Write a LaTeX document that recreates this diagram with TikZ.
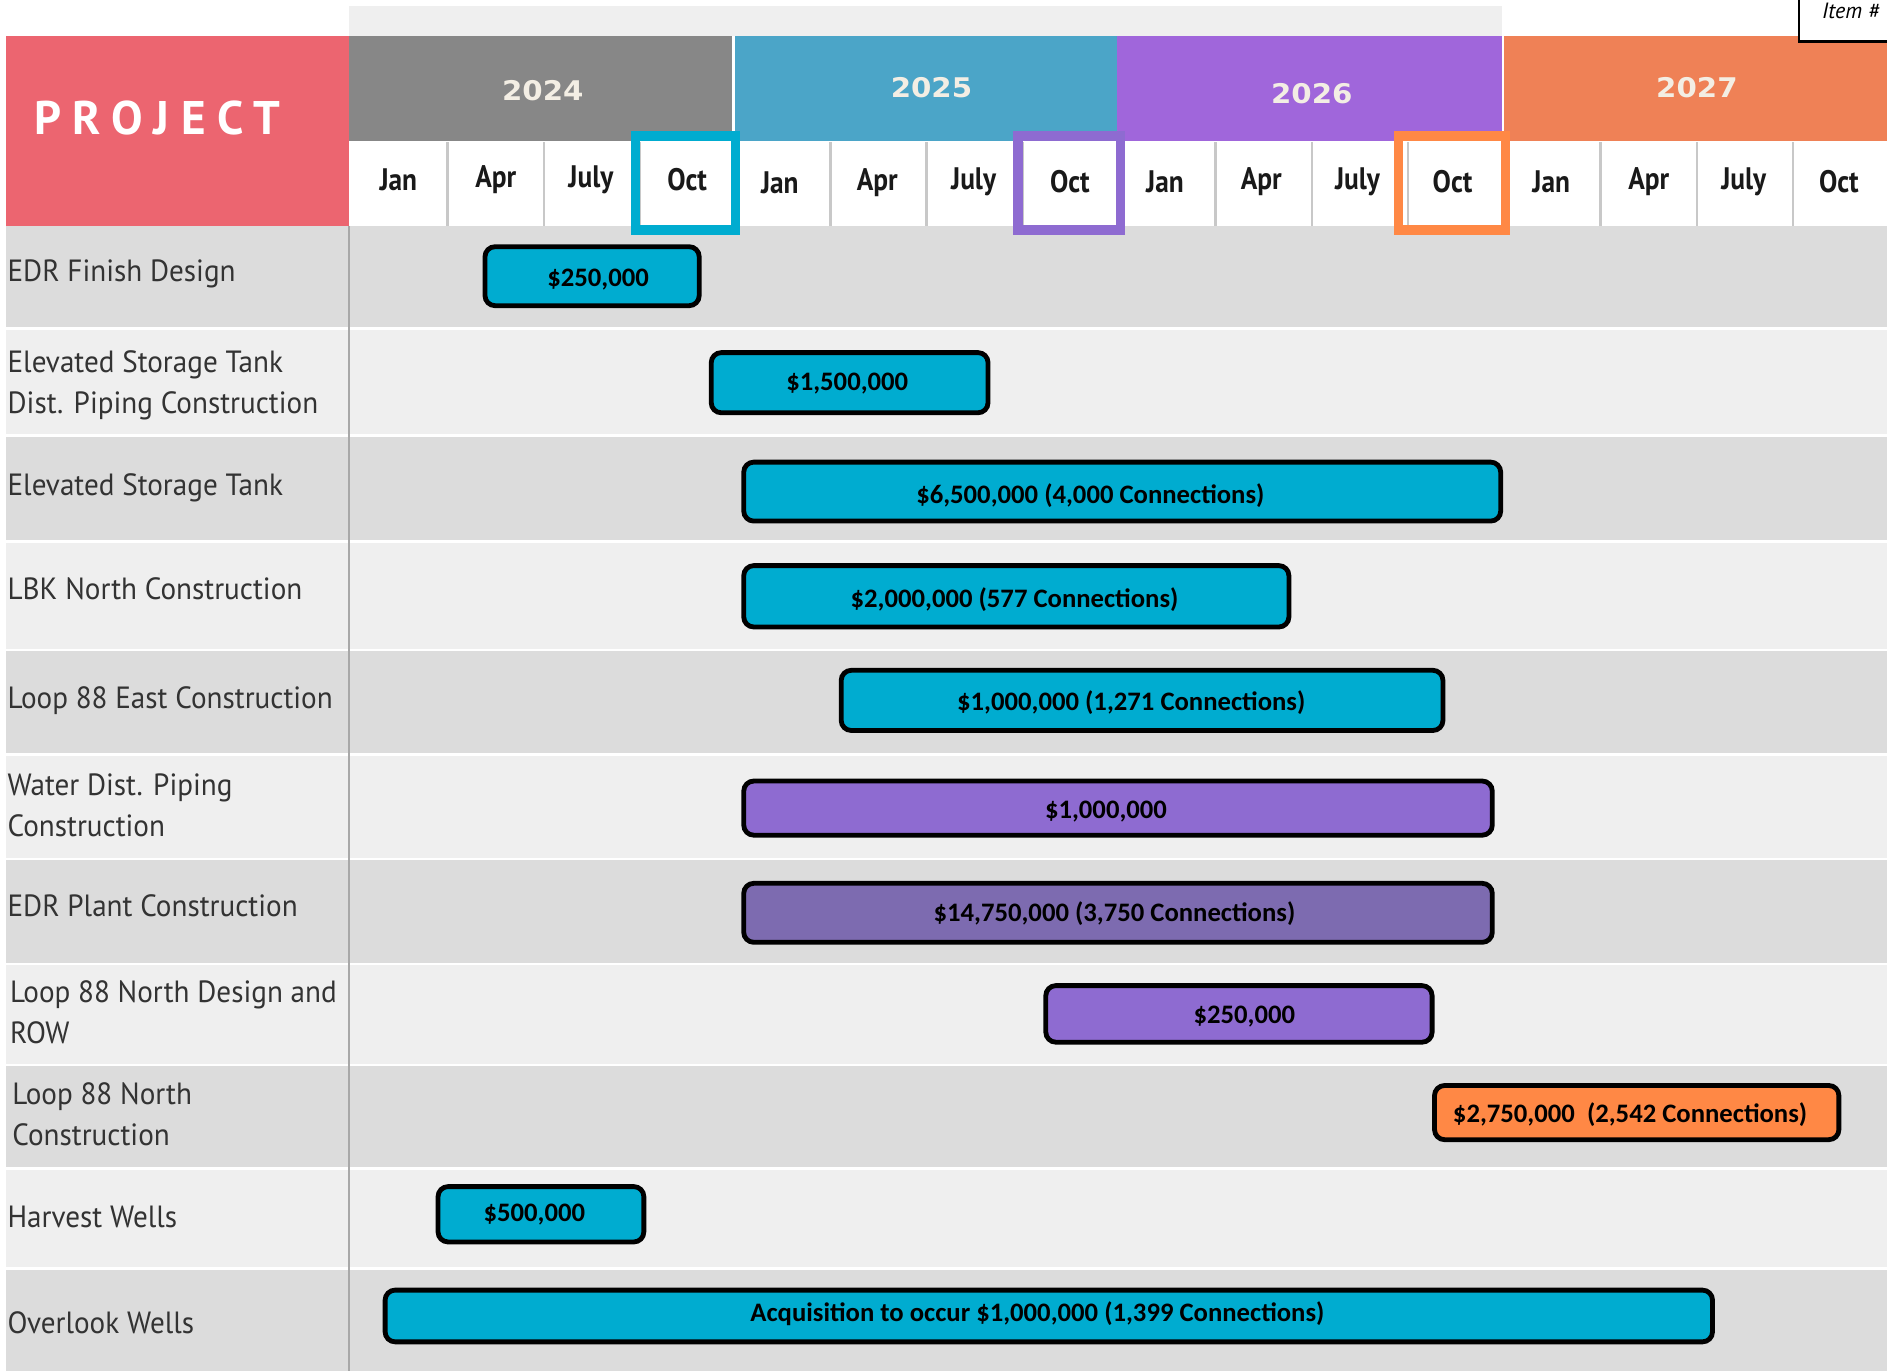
\documentclass[tikz,border=0pt]{standalone}
\usepackage{fontspec}
\setmainfont{PT Sans}
\newfontfamily\barfont{Carlito}
\newfontfamily\yearfont[FakeStretch=1.08]{DejaVu Sans}
\newfontfamily\monthfont[FakeStretch=0.88]{PT Sans}
\newfontfamily\labelfont[FakeStretch=0.95]{PT Sans}
\newfontfamily\projfont[LetterSpace=25]{PT Sans}
\definecolor{projred}{HTML}{EC6570}
\definecolor{yr24}{HTML}{878787}
\definecolor{yr25}{HTML}{4BA5C8}
\definecolor{yr26}{HTML}{A066DB}
\definecolor{yr27}{HTML}{EF8156}
\definecolor{rowD}{HTML}{DCDCDC}
\definecolor{rowL}{HTML}{EFEFEF}
\definecolor{topband}{HTML}{EFEFEF}
\definecolor{cyanbar}{HTML}{00ACD0}
\definecolor{purpA}{HTML}{8E6BD1}
\definecolor{purpB}{HTML}{7D6BB0}
\definecolor{orgbar}{HTML}{FF8845}
\definecolor{labelgray}{HTML}{333333}
\definecolor{yeartext}{HTML}{F3EEE4}
\definecolor{sepgray}{HTML}{C8C8C8}
\definecolor{vline}{HTML}{A8A8A8}
\newcommand\gbar[6]{\node[barbox, fill=#6, minimum width={(#4-#2-4)*0.6pt}, minimum height={(#5-#3-4)*0.6pt}] (#1) at ({(#2+#4)/2},{(#3+#5)/2}) {};}
\tikzset{
  barbox/.style={draw=black, line width=2.4pt, rounded corners=5pt, inner sep=0pt},
  bartext/.style={font=\barfont\bfseries\fontsize{13.3}{16}\selectfont, inner sep=0pt, text=black},
  rowlabel/.style={anchor=west, align=left, font=\labelfont\fontsize{15.3}{20.5}\selectfont, text=labelgray, inner sep=0pt},
  monthlab/.style={font=\monthfont\bfseries\fontsize{15.5}{18}\selectfont, inner sep=0pt, text=black!90},
  yearlab/.style={font=\yearfont\bfseries\fontsize{13.5}{16}\selectfont, text=yeartext, inner sep=0pt},
  hlbox/.style={line width=4.8pt},
}
\begin{document}
\begin{tikzpicture}[x=0.6pt,y=-0.6pt]
\useasboundingbox (0,0) rectangle (1568,1139);
\fill[white] (0,0) rectangle (1568,1139);
% top band
\fill[topband] (290,5) rectangle (1248,30);
% project header
\fill[projred] (5,30) rectangle (290,188);
\node[anchor=west, text=white, inner sep=0pt] (proj) at (28,98) {\projfont\bfseries\fontsize{23.5}{26}\selectfont PROJECT};
% years
\fill[yr24] (290,30) rectangle (608,117);
\fill[yr25] (611,30) rectangle (928,117);
\fill[yr26] (928,30) rectangle (1248,117);
\fill[yr27] (1250,30) rectangle (1568,117);
\node[yearlab] (y24) at (451,75) {2024};
\node[yearlab] (y25) at (774,73) {2025};
\node[yearlab] (y26) at (1090,78) {2026};
\node[yearlab] (y27) at (1410,73) {2027};
% months row
\fill[white] (290,117) rectangle (1568,188);
\foreach \sx in {372,452,532,610,690,770,850,930,1010,1090,1170,1250,1330,1410,1490}
  \draw[sepgray, line width=1.2pt] (\sx,118) -- (\sx,188);
% rows
\foreach \ya/\yb/\c in {188/272/rowD, 274/361/rowL, 363/449/rowD, 451/539/rowL, 541/626/rowD, 628/713/rowL, 715/800/rowD, 802/884/rowL, 886/970/rowD, 972/1053/rowL, 1055/1139/rowD}
  \fill[\c] (5,\ya) rectangle (1568,\yb);
\draw[vline, line width=1.2pt] (290,188) -- (290,1139);
% month labels
\node[monthlab] (m1) at (331,149) {Jan};
\node[monthlab] (m2) at (412,149) {Apr};
\node[monthlab] (m3) at (491,149) {July};
\node[monthlab] (m4) at (571,149) {Oct};
\node[monthlab] (m5) at (648,152) {Jan};
\node[monthlab] (m6) at (729,152) {Apr};
\node[monthlab] (m7) at (809,151) {July};
\node[monthlab] (m8) at (889,151) {Oct};
\node[monthlab] (m9) at (968,151) {Jan};
\node[monthlab] (m10) at (1048,151) {Apr};
\node[monthlab] (m11) at (1128,151) {July};
\node[monthlab] (m12) at (1207,151) {Oct};
\node[monthlab] (m13) at (1289,151) {Jan};
\node[monthlab] (m14) at (1370,151) {Apr};
\node[monthlab] (m15) at (1449,151) {July};
\node[monthlab] (m16) at (1528,151) {Oct};
% highlight boxes
\draw[hlbox, cyanbar] (528,113) rectangle (611,191);
\draw[hlbox, purpA] (846,113) rectangle (931,191);
\draw[hlbox, orgbar] (1162,113) rectangle (1251,191);
% item box
\node[draw=black, line width=1.2pt, fill=white, anchor=north west, minimum width=60pt, minimum height=26pt, inner sep=0pt] (item) at (1494,-10) {};
\node[inner sep=0pt, font=\itshape\fontsize{11}{12}\selectfont] (itemtxt) at (1538,9) {Item \#};
% row labels
\node[rowlabel] (l1) at (6,228) {EDR Finish Design};
\node[rowlabel] (l2) at (6,320) {Elevated Storage Tank\\Dist. Piping Construction};
\node[rowlabel] (l3) at (6,405) {Elevated Storage Tank};
\node[rowlabel] (l4) at (6,489) {LBK North Construction};
\node[rowlabel] (l5) at (6,582) {Loop 88 East Construction};
\node[rowlabel] (l6) at (6,669) {Water Dist. Piping\\Construction};
\node[rowlabel] (l7) at (6,753) {EDR Plant Construction};
\node[rowlabel] (l8) at (8,841) {Loop 88 North Design and\\ROW};
\node[rowlabel] (l9) at (10,926) {Loop 88 North\\Construction};
\node[rowlabel] (l10) at (6,1011) {Harvest Wells};
\node[rowlabel] (l11) at (6,1099) {Overlook Wells};
% bars
\gbar{b1}{401}{203}{583}{256}{cyanbar}
\gbar{b2}{589}{291}{823}{345}{cyanbar}
\gbar{b3}{616}{382}{1249}{435}{cyanbar}
\gbar{b4}{616}{468}{1073}{523}{cyanbar}
\gbar{b5}{697}{555}{1201}{609}{cyanbar}
\gbar{b6}{616}{647}{1242}{696}{purpA}
\gbar{b7}{616}{732}{1242}{785}{purpB}
\gbar{b8}{867}{817}{1192}{868}{purpA}
\gbar{b9}{1190}{900}{1530}{949}{orgbar}
\gbar{b10}{362}{984}{537}{1034}{cyanbar}
\gbar{b11}{318}{1070}{1425}{1117}{cyanbar}
\node[bartext] (t1) at (497,232) {\$250,000};
\node[bartext] (t2) at (704,319) {\$1,500,000};
\node[bartext] (t3) at (906,412) {\$6,500,000 (4,000 Connections)};
\node[bartext] (t4) at (843,498) {\$2,000,000 (577 Connections)};
\node[bartext] (t5) at (940,584) {\$1,000,000 (1,271 Connections)};
\node[bartext] (t6) at (919,674) {\$1,000,000};
\node[bartext] (t7) at (926,759) {\$14,750,000 (3,750 Connections)};
\node[bartext] (t8) at (1034,845) {\$250,000};
\node[bartext, anchor=west] (t9) at (1207,926) {\$2,750,000\ \ (2,542 Connections)};
\node[bartext] (t10) at (444,1009) {\$500,000};
\node[bartext] (t11) at (862,1092) {Acquisition to occur \$1,000,000 (1,399 Connections)};
\end{tikzpicture}
\end{document}
